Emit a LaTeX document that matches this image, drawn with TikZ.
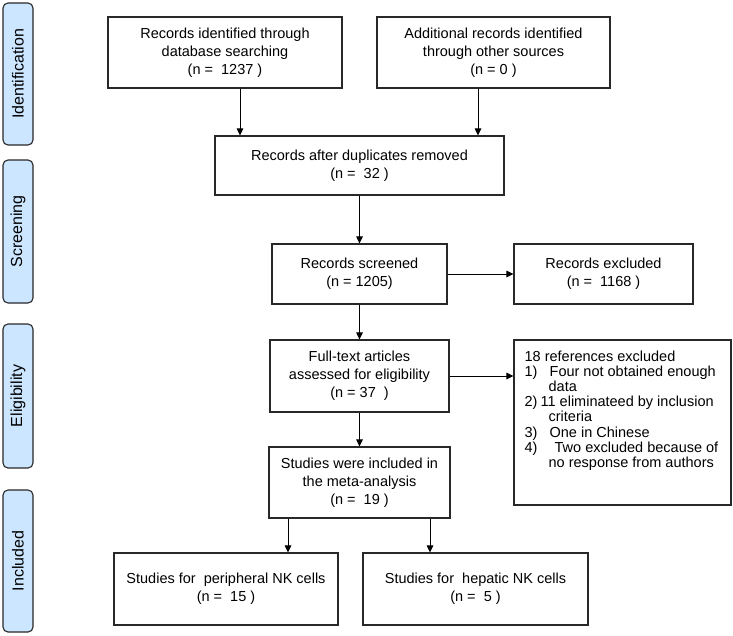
\documentclass[tikz,border=0pt]{standalone}
\usepackage{fontspec}
\setmainfont{Liberation Sans}
\usetikzlibrary{arrows.meta}
\definecolor{sideblue}{RGB}{204,230,255}
\definecolor{lineg}{RGB}{40,40,40}
\tikzset{
  box/.style={draw=lineg, line width=1.1pt, rectangle, inner sep=0pt, align=center,
    font=\fontsize{14.5}{18}\selectfont},
  side/.style={draw=lineg, line width=1.1pt, fill=sideblue, rounded corners=5pt,
    inner sep=0pt, minimum width=30pt},
  sidetext/.style={rotate=90, inner sep=0pt, font=\fontsize{16}{18}\selectfont},
  arr/.style={draw=black, line width=1pt, -{Triangle[length=7pt,width=6.5pt]}},
}
\begin{document}
\begin{tikzpicture}[x=1pt,y=-1pt]
\useasboundingbox (0,0) rectangle (733,635);
% phase labels
\node[side, minimum height=142pt] (s1) at (18,74) {};
\node[sidetext] (t1) at (s1.center) {Identification};
\node[side, minimum height=143pt] (s2) at (18,231.5) {};
\node[sidetext] (t2) at (s2.center) {Screening};
\node[side, minimum height=144pt] (s3) at (18,396) {};
\node[sidetext] (t3) at (s3.center) {Eligibility};
\node[side, minimum height=142pt] (s4) at (18,561) {};
\node[sidetext] (t4) at (s4.center) {Included};
% boxes
\node[box, minimum width=234pt, minimum height=71pt] (id1) at (225,52.5)
  {Records identified through\\database searching\\(n =\ \ 1237 )};
\node[box, minimum width=233pt, minimum height=71pt] (id2) at (493.5,52.5)
  {Additional records identified\\through other sources\\(n = 0 )};
\node[box, minimum width=289pt, minimum height=59pt] (dup) at (359.5,165.5)
  {Records after duplicates removed\\(n =\ \ 32 )};
\node[box, minimum width=175pt, minimum height=60pt] (scr) at (359.5,274)
  {Records screened\\(n = 1205)};
\node[box, minimum width=179pt, minimum height=60pt] (exc) at (603.5,274)
  {Records excluded\\(n =\ \ 1168 )};
\node[box, minimum width=179pt, minimum height=72pt] (full) at (359.5,376)
  {Full-text articles\\assessed for eligibility\\(n = 37\ \ )};
\node[box, minimum width=217pt, minimum height=165pt] (refs) at (622.5,422.5) {};
\node[anchor=north west, inner sep=0pt, align=left,
  font=\fontsize{14.5}{15.2}\selectfont] (refstext) at ([xshift=11pt,yshift=-11pt]refs.north west)
  {18 references excluded\\
   \makebox[25pt][l]{1)}Four not obtained enough\\
   \hspace*{24pt}data\\
   \makebox[16pt][l]{2)}11 eliminateed by inclusion\\
   \hspace*{24pt}criteria\\
   \makebox[25pt][l]{3)}One in Chinese\\
   \makebox[30pt][l]{4)}Two excluded because of\\
   \hspace*{24pt}no response from authors};
\node[box, minimum width=181pt, minimum height=71pt] (inc) at (359.5,482.5)
  {Studies were included in\\the meta-analysis\\(n =\ \ 19 )};
\node[box, minimum width=224pt, minimum height=72pt] (per) at (226,589)
  {Studies for\ \ peripheral NK cells\\(n =\ \ 15 )};
\node[box, minimum width=225pt, minimum height=72pt] (hep) at (475.5,589)
  {Studies for\ \ hepatic NK cells\\(n =\ \ 5 )};
% connectors
\draw[arr] (id1.south -| 240,0) -- (dup.north -| 240,0);
\draw[arr] (id2.south -| 478,0) -- (dup.north -| 478,0);
\draw[arr] (dup.south) -- (scr.north);
\draw[arr] (scr.east) -- (exc.west);
\draw[arr] (scr.south) -- (full.north);
\draw[arr] (full.east) -- (full.east -| refs.west);
\draw[arr] (full.south) -- (inc.north);
\draw[arr] (inc.south -| 288,0) -- (per.north -| 288,0);
\draw[arr] (inc.south -| 430,0) -- (hep.north -| 430,0);
\end{tikzpicture}
\end{document}
